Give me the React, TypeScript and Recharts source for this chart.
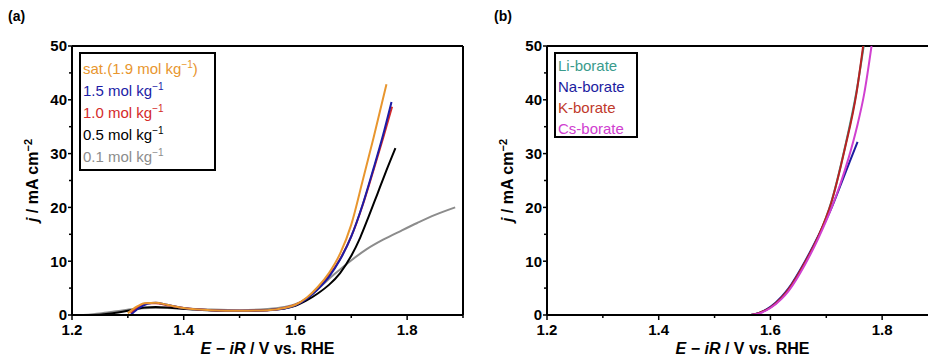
import { LineChart, Line, XAxis, YAxis, ReferenceLine, Label } from "recharts"

const FONT = '"Liberation Sans", Arial, sans-serif'

const xTicks = [1.2, 1.3, 1.4, 1.5, 1.6, 1.7, 1.8, 1.9]
const xMajor = [1.2, 1.4, 1.6, 1.8]
const yTicks = [0, 5, 10, 15, 20, 25, 30, 35, 40, 45, 50]
const yMajor = [0, 10, 20, 30, 40, 50]

// panel (a): concentration series, [E, j]
const satCurve = [
  [1.30, 0.3], [1.315, 1.5], [1.33, 2.2], [1.35, 2.3], [1.37, 1.9], [1.40, 1.3], [1.45, 0.9],
  [1.50, 0.8], [1.55, 0.9], [1.58, 1.3], [1.60, 1.9], [1.62, 3.2], [1.64, 5.2], [1.66, 7.8],
  [1.68, 11.4], [1.70, 16.8], [1.72, 24.8], [1.74, 33.0], [1.763, 42.9],
]
const c15Curve = [
  [1.305, 0], [1.32, 1.3], [1.335, 2.1], [1.35, 2.3], [1.37, 1.9], [1.40, 1.3], [1.45, 0.9],
  [1.50, 0.8], [1.55, 0.9], [1.58, 1.2], [1.60, 1.8], [1.62, 3.0], [1.64, 4.8], [1.66, 7.1],
  [1.68, 10.3], [1.70, 14.6], [1.72, 20.4], [1.74, 27.3], [1.757, 33.5], [1.772, 39.6],
]
const c10Curve = [
  [1.305, 0.3], [1.32, 1.6], [1.335, 2.2], [1.35, 2.2], [1.37, 1.8], [1.40, 1.3], [1.45, 0.9],
  [1.50, 0.8], [1.55, 0.9], [1.58, 1.3], [1.60, 1.9], [1.62, 3.1], [1.64, 5.0], [1.66, 7.3],
  [1.68, 10.4], [1.70, 14.6], [1.72, 20.3], [1.74, 27.0], [1.757, 32.9], [1.773, 38.7],
]
const c05Curve = [
  [1.24, 0], [1.27, 0.3], [1.30, 0.8], [1.33, 1.4], [1.35, 1.5], [1.38, 1.3], [1.42, 1.0],
  [1.46, 0.8], [1.50, 0.75], [1.55, 0.9], [1.58, 1.2], [1.60, 1.7], [1.62, 2.7], [1.64, 4.0],
  [1.66, 5.6], [1.68, 7.8], [1.70, 11.0], [1.716, 14.4], [1.73, 18.0], [1.746, 22.3],
  [1.76, 26.1], [1.779, 31.0],
]
const c01Curve = [
  [1.22, 0], [1.25, 0.3], [1.28, 0.7], [1.31, 1.1], [1.34, 1.3], [1.37, 1.3], [1.40, 1.2],
  [1.45, 1.0], [1.50, 0.9], [1.55, 1.1], [1.58, 1.5], [1.60, 2.0], [1.62, 3.0], [1.644, 5.2],
  [1.67, 7.6], [1.698, 10.0], [1.727, 12.2], [1.757, 14.0], [1.79, 15.7], [1.818, 17.1],
  [1.85, 18.6], [1.886, 20.0],
]

// panel (b): cation series
const liCurve = [
  [1.565, 0], [1.58, 0.4], [1.60, 1.4], [1.62, 3.2], [1.632, 4.6], [1.662, 9.7], [1.686, 14.6],
  [1.709, 21.0], [1.733, 31.0], [1.754, 41.5], [1.767, 50.0],
]
const naCurve = [
  [1.565, 0], [1.58, 0.4], [1.60, 1.5], [1.62, 3.4], [1.632, 4.9], [1.662, 10.0], [1.686, 14.8],
  [1.709, 19.8], [1.727, 24.5], [1.742, 28.5], [1.756, 32.2],
]
const kCurve = [
  [1.565, 0], [1.58, 0.4], [1.60, 1.4], [1.62, 3.2], [1.632, 4.7], [1.662, 9.8], [1.686, 14.7],
  [1.709, 20.9], [1.733, 30.8], [1.754, 41.2], [1.766, 50.0],
]
const csCurve = [
  [1.565, 0], [1.58, 0.3], [1.60, 1.3], [1.62, 3.0], [1.632, 4.4], [1.662, 9.4], [1.686, 14.3],
  [1.709, 19.8], [1.725, 24.3], [1.74, 29.2], [1.755, 35.0], [1.768, 41.2], [1.781, 50.0],
]

const toPts = (pairs: number[][]) => pairs.map(([x, j]) => ({ x, j }))

const seriesA = [
  { key: "c01", text: "0.1 mol kg", sup: "\u22121", tail: "", color: "#8c8c8c", data: c01Curve },
  { key: "c05", text: "0.5 mol kg", sup: "\u22121", tail: "", color: "#000000", data: c05Curve },
  { key: "c10", text: "1.0 mol kg", sup: "\u22121", tail: "", color: "#d42a2a", data: c10Curve },
  { key: "c15", text: "1.5 mol kg", sup: "\u22121", tail: "", color: "#1c1ca6", data: c15Curve },
  { key: "sat", text: "sat.(1.9 mol kg", sup: "\u22121", tail: ")", color: "#e8962e", data: satCurve },
]
const legendOrderA = ["sat", "c15", "c10", "c05", "c01"]

const seriesB = [
  { key: "li", text: "Li-borate", color: "#3a9b8c", data: liCurve },
  { key: "na", text: "Na-borate", color: "#1c1ca0", data: naCurve },
  { key: "k", text: "K-borate", color: "#b82222", data: kCurve },
  { key: "cs", text: "Cs-borate", color: "#d040d0", data: csCurve },
]
const legendColorsB: Record<string, string> = { li: "#3a9b8c", na: "#1c1ca0", k: "#c0392b", cs: "#d040d0" }

const near = (list: number[], v: number) => list.some((m) => Math.abs(m - v) < 1e-6)

function XTick(props: any) {
  const { x, y, payload } = props
  const major = near(xMajor, payload.value)
  return (
    <g>
      <line x1={x} x2={x} y1={y} y2={y + (major ? 5 : 3)} stroke="#000" strokeWidth={1.5} />
      {major && (
        <text x={x} y={y + 20} textAnchor="middle" fontSize={15} fontWeight="bold" fontFamily={FONT} fill="#000">
          {payload.value.toFixed(1)}
        </text>
      )}
    </g>
  )
}

function YTick(props: any) {
  const { x, y, payload } = props
  const major = near(yMajor, payload.value)
  return (
    <g>
      <line x1={x} x2={x - (major ? 4 : 3)} y1={y} y2={y} stroke="#000" strokeWidth={1.5} />
      {major && (
        <text x={x - 5} y={y} dy="0.36em" textAnchor="end" fontSize={15} fontWeight="bold" fontFamily={FONT} fill="#000">
          {payload.value}
        </text>
      )}
    </g>
  )
}

function XTitle(props: any) {
  const { viewBox } = props
  const cx = viewBox.x + viewBox.width / 2
  return (
    <text x={cx} y={viewBox.y + 39} textAnchor="middle" fontSize={16} fontWeight="bold" fontFamily={FONT} fill="#000">
      <tspan fontStyle="italic">E</tspan>
      {" \u2212 "}
      <tspan fontStyle="italic">iR</tspan>
      {" / V vs. RHE"}
    </text>
  )
}

function YTitle(props: any) {
  const { viewBox } = props
  const bx = viewBox.x + 22
  const cy = viewBox.y + viewBox.height / 2
  return (
    <text x={bx} y={cy} transform={`rotate(-90 ${bx} ${cy})`} textAnchor="middle" fontSize={16} fontWeight="bold" fontFamily={FONT} fill="#000">
      <tspan fontStyle="italic">j</tspan>
      {" / mA cm"}
      <tspan dy={-6} fontSize={11}>{"\u22122"}</tspan>
    </text>
  )
}

function Panel({ children }: { children: any }) {
  return (
    <LineChart width={500} height={358} margin={{ top: 46, right: 37, bottom: 7, left: 16 }}>
      <XAxis
        type="number"
        dataKey="x"
        domain={[1.2, 1.9]}
        ticks={xTicks}
        allowDataOverflow
        height={36}
        tickSize={0}
        tickMargin={0}
        tick={<XTick />}
        tickLine={false}
        axisLine={{ stroke: "#000", strokeWidth: 2 }}
      >
        <Label content={<XTitle />} />
      </XAxis>
      <YAxis
        type="number"
        dataKey="j"
        domain={[0, 50]}
        ticks={yTicks}
        allowDataOverflow
        width={56}
        tickSize={0}
        tickMargin={0}
        tick={<YTick />}
        tickLine={false}
        axisLine={{ stroke: "#000", strokeWidth: 2 }}
      >
        <Label content={<YTitle />} />
      </YAxis>
      <ReferenceLine y={50} stroke="#000" strokeWidth={2} />
      <ReferenceLine x={1.9} stroke="#000" strokeWidth={2} />
      {children}
    </LineChart>
  )
}

const supStyle = { fontSize: 10, verticalAlign: "super", lineHeight: 0 } as const

export default function App() {
  return (
    <div style={{ position: "fixed", left: 0, top: 0, width: 928, height: 358, overflow: "hidden", background: "#fff", fontFamily: FONT }}>
      <div style={{ position: "absolute", left: 8, top: 8, fontSize: 14, fontWeight: "bold", fontFamily: '"Liberation Sans Narrow", ' + FONT }}>(a)</div>
      <div style={{ position: "absolute", left: 494, top: 8, fontSize: 14, fontWeight: "bold", fontFamily: '"Liberation Sans Narrow", ' + FONT }}>(b)</div>

      <div style={{ position: "absolute", left: 0, top: 0 }}>
        <Panel>
          {seriesA.map((s) => (
            <Line
              key={s.key}
              data={toPts(s.data)}
              dataKey="j"
              type="monotone"
              stroke={s.color}
              strokeWidth={2}
              dot={false}
              isAnimationActive={false}
            />
          ))}
        </Panel>
      </div>

      <div style={{ position: "absolute", left: 475, top: 0 }}>
        <Panel>
          {seriesB.map((s) => (
            <Line
              key={s.key}
              data={toPts(s.data)}
              dataKey="j"
              type="monotone"
              stroke={s.color}
              strokeWidth={2}
              dot={false}
              isAnimationActive={false}
            />
          ))}
        </Panel>
      </div>

      <div style={{ position: "absolute", left: 79, top: 52, width: 131, height: 111, border: "2px solid #000", background: "#fff", paddingTop: 4, paddingLeft: 2 }}>
        {legendOrderA.map((k) => {
          const s = seriesA.find((e) => e.key === k)!
          return (
            <div key={k} style={{ color: s.color, fontSize: 15, lineHeight: "22px", whiteSpace: "nowrap" }}>
              {s.text}
              <span style={supStyle}>{s.sup}</span>
              {s.tail}
            </div>
          )
        })}
      </div>

      <div style={{ position: "absolute", left: 554, top: 52, width: 78, height: 81, border: "2px solid #000", background: "#fff", paddingTop: 1, paddingLeft: 2 }}>
        {seriesB.map((s) => (
          <div key={s.key} style={{ color: legendColorsB[s.key], fontSize: 15, lineHeight: "21px", whiteSpace: "nowrap" }}>
            {s.text}
          </div>
        ))}
      </div>
    </div>
  )
}
